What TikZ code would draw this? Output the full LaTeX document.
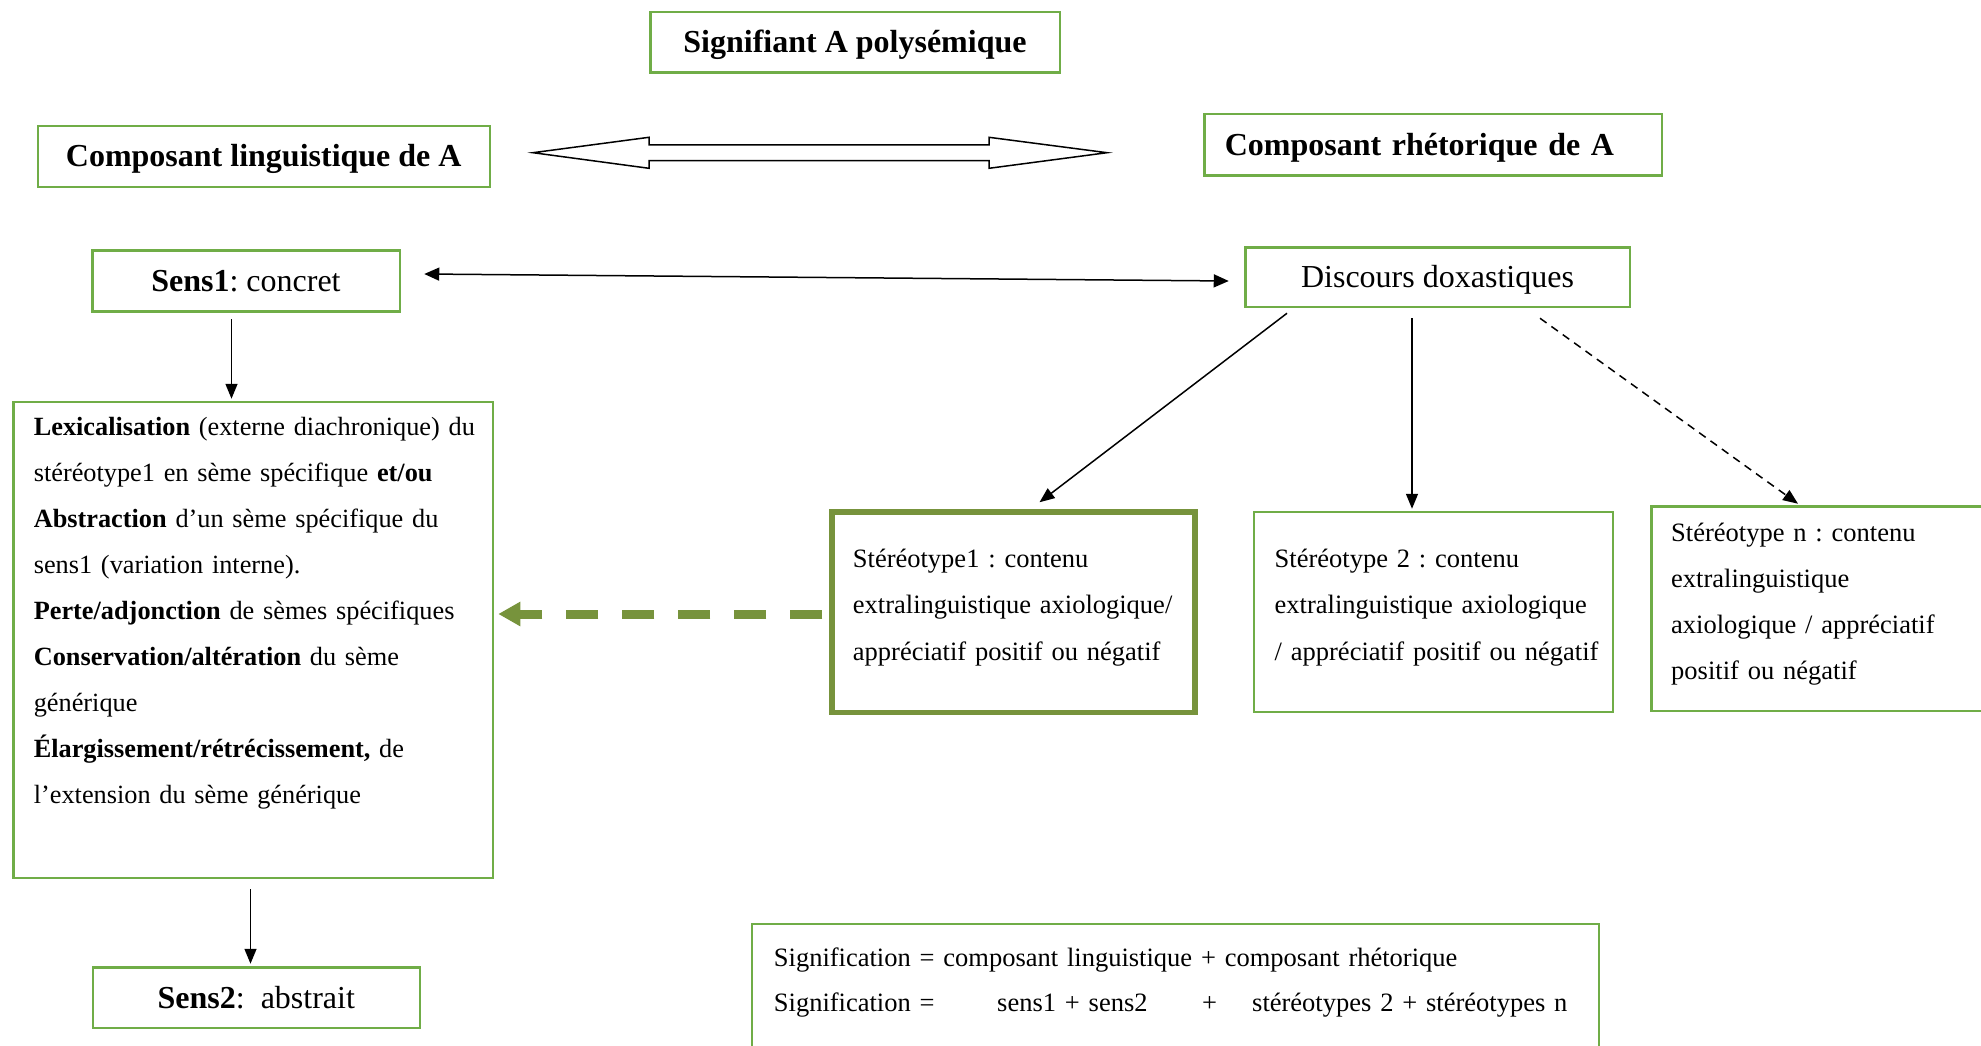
\documentclass[tikz,border=0pt]{standalone}
\usepackage{fontspec}
\setmainfont{Liberation Serif}
\usetikzlibrary{arrows.meta}
\definecolor{lgreen}{HTML}{70AD47}
\definecolor{olivegreen}{HTML}{77933C}
\begin{document}
\frenchspacing
\begin{tikzpicture}[x=1pt,y=-1pt,
  gbox/.style={draw=lgreen, line width=2.5pt, rectangle, inner sep=0pt},
  headfont/.style={font=\fontsize{32}{38}\selectfont\frenchspacing, text height=24pt, text depth=3pt},
  txt/.style={anchor=north west, inner sep=0pt, align=left},
  arr/.style={line width=1.5pt, -{Triangle[length=15pt,width=12pt]}},
  darr/.style={line width=1.5pt, {Triangle[length=15pt,width=13pt]}-{Triangle[length=15pt,width=13pt]}},
  dasharr/.style={line width=1.5pt, dash pattern=on 8pt off 6pt, -{Triangle[length=15pt,width=12pt]}},
  greenarr/.style={line width=9pt, olivegreen, dash pattern=on 32.5pt off 23.5pt, -{Triangle[length=22pt,width=23pt]}}
]
\useasboundingbox (0,0) rectangle (1981,1046);

% title boxes
\node[gbox, headfont, minimum width=409.5pt, minimum height=60.5pt] (sig) at (855,42.2) {\textbf{Signifiant A polysémique}};
\node[gbox, headfont, minimum width=452pt, minimum height=60.5pt] (ling) at (263.75,156.5) {\textbf{Composant linguistique de A}};
\node[gbox, headfont, minimum height=61.2pt, text width=416.5pt, inner xsep=20.5pt, align=left] (rhet) at (1433,144.85) {\textbf{Composant rhétorique de A}};
\node[gbox, headfont, minimum width=307.5pt, minimum height=61.2pt] (sens1) at (246,280.85) {\textbf{Sens1}: concret};
\node[gbox, headfont, minimum width=384.5pt, minimum height=59.5pt] (disc) at (1437.5,277) {Discours doxastiques};
\node[gbox, headfont, minimum width=326.9pt, minimum height=60.5pt] (sens2) at (256.3,997.5) {\textbf{Sens2}:\ \ abstrait};

% double block arrow
\draw[line width=1.5pt, fill=white] (533,152.7) -- (649,137.3) -- (649,145) -- (989,145) -- (989,137.3) -- (1107,152.7) -- (989,168.3) -- (989,160.7) -- (649,160.7) -- (649,168.3) -- cycle;

% lexicalisation box
\node[gbox, minimum width=479.5pt, minimum height=475.8pt] (lex) at (253,639.85) {};
\node[txt, font=\fontsize{26.3}{46}\selectfont\frenchspacing, text width=458pt] (lextext) at (33.6,415) {\rule{0pt}{20pt}\textbf{Lexicalisation} (externe diachronique) du\\
stéréotype1 en sème spécifique \textbf{et/ou}\\
\textbf{Abstraction} d’un sème spécifique du\\
sens1 (variation interne).\\
\textbf{Perte/adjonction} de sèmes spécifiques\\
\textbf{Conservation/altération} du sème\\
générique\\
\textbf{Élargissement/rétrécissement,} de\\
l’extension du sème générique};

% stereotype boxes
\node[draw=olivegreen, line width=5.5pt, rectangle, inner sep=0pt, minimum width=363.2pt, minimum height=200.5pt] (st1) at (1013.35,612) {};
\node[txt, font=\fontsize{26.5}{46.5}\selectfont\frenchspacing, text width=340pt] (st1text) at (852.7,547) {\rule{0pt}{20pt}Stéréotype1 : contenu\\
extralinguistique axiologique/\\
appréciatif positif ou négatif};

\node[gbox, minimum width=358.8pt, minimum height=199.8pt] (st2) at (1433.35,611.85) {};
\node[txt, font=\fontsize{26.5}{46.5}\selectfont\frenchspacing, text width=335pt] (st2text) at (1274.5,547) {\rule{0pt}{20pt}Stéréotype 2 : contenu\\
extralinguistique axiologique\\
/ appréciatif positif ou négatif};

\node[gbox, minimum width=400pt, minimum height=204.5pt] (stn) at (1851.25,608.5) {};
\node[txt, font=\fontsize{26.5}{45.8}\selectfont\frenchspacing, text width=300pt] (stntext) at (1671,521.7) {\rule{0pt}{20pt}Stéréotype n : contenu\\
extralinguistique\\
axiologique / appréciatif\\
positif ou négatif};

% signification box
\node[gbox, minimum width=847pt, minimum height=155.75pt] (signif) at (1175.25,1002.1) {};
\node[txt, font=\fontsize{26.5}{45.7}\selectfont\frenchspacing, text width=800pt] (signiftext) at (773.7,946) {\rule{0pt}{20pt}Signification = composant linguistique + composant rhétorique\\
\makebox[223.3pt][l]{Signification =}\makebox[205pt][l]{sens1 + sens2}\makebox[50pt][l]{+}stéréotypes 2 + stéréotypes n};

% connectors
\draw[darr] ([shift={(23.25,-6.85)}]sens1.east) -- ([shift={(-15.25,4)}]disc.west);
\draw[arr] ([shift={(-14.5,6.55)}]sens1.south) -- ([shift={(-21.5,-1.95)}]lex.north);
\draw[arr] ([shift={(-2.5,10.25)}]lex.south) -- ([shift={(-5.8,-2.25)}]sens2.north);
\draw[arr] ([shift={(-150.5,5.25)}]disc.south) -- ([shift={(26.15,-6.75)}]st1.north);
\draw[arr] ([shift={(-25.5,10.25)}]disc.south) -- ([shift={(-21.35,-1.95)}]st2.north);
\draw[dasharr] ([shift={(102.5,10.25)}]disc.south) -- ([shift={(-53.25,-1.25)}]stn.north);
\draw[greenarr] ([shift={(-6.75,2)}]st1.west) -- ([shift={(4.25,-25.85)}]lex.east);
\end{tikzpicture}
\end{document}
